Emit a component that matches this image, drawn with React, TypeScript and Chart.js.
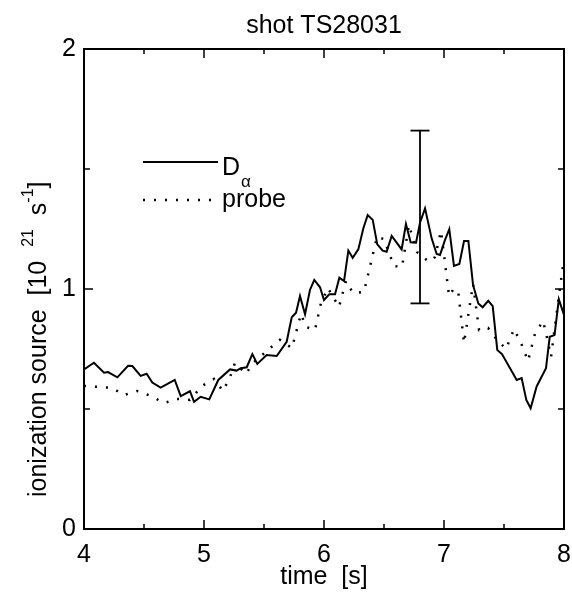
import React, { useEffect, useRef } from "react";
import { Chart, registerables } from "chart.js";

Chart.register(...registerables);

// ---- data ----
const tD = [4.000,4.083,4.167,4.200,4.278,4.367,4.403,4.472,4.522,4.569,4.639,4.756,4.806,4.883,4.917,4.972,5.044,5.119,5.217,5.272,5.306,5.356,5.403,5.444,5.522,5.606,5.689,5.731,5.767,5.800,5.842,5.883,5.919,5.967,6.000,6.044,6.092,6.128,6.167,6.203,6.239,6.286,6.328,6.364,6.406,6.444,6.489,6.522,6.564,6.647,6.683,6.722,6.767,6.800,6.842,6.897,6.939,6.967,7.008,7.044,7.083,7.128,7.167,7.203,7.242,7.286,7.322,7.369,7.406,7.444,7.483,7.606,7.647,7.686,7.722,7.772,7.850,7.881,7.921,7.957,8.000];
const dAlpha = [0.665,0.693,0.651,0.654,0.632,0.680,0.679,0.638,0.647,0.610,0.589,0.621,0.554,0.574,0.530,0.551,0.540,0.621,0.665,0.660,0.670,0.674,0.729,0.688,0.725,0.721,0.780,0.882,0.901,0.971,0.895,0.996,1.038,1.007,0.954,0.978,0.978,1.047,1.033,1.160,1.130,1.165,1.253,1.308,1.288,1.186,1.160,1.155,1.221,1.165,1.271,1.195,1.193,1.276,1.336,1.211,1.146,1.142,1.204,1.249,1.096,1.104,1.200,1.200,1.017,0.940,0.924,0.951,0.929,0.746,0.729,0.621,0.629,0.538,0.503,0.594,0.670,0.801,0.808,0.957,0.892];

const tProbe = [4.000,4.233,4.333,4.442,4.558,4.667,4.775,4.883,4.983,5.083,5.158,5.217,5.258,5.350,5.408,5.533,5.633,5.733,5.808,5.850,5.925,5.975,6.033,6.125,6.183,6.242,6.333,6.442,6.500,6.583,6.650,6.708,6.775,6.875,6.925,6.975,7.000,7.042,7.075,7.117,7.167,7.242,7.292,7.367,7.442,7.517,7.583,7.642,7.700,7.758,7.825,7.850,7.892,7.925,8.000];
const probe = [0.596,0.588,0.558,0.575,0.554,0.525,0.542,0.538,0.596,0.625,0.575,0.633,0.692,0.646,0.692,0.746,0.788,0.754,0.896,0.842,0.829,0.942,1.004,0.925,1.033,0.983,0.988,1.217,1.208,1.096,1.092,1.267,1.154,1.113,1.133,1.242,1.142,0.971,0.996,0.996,0.775,1.021,0.829,0.838,0.788,0.750,0.833,0.775,0.700,0.813,0.867,0.817,0.717,0.846,1.129];

const errT = [6.8];
const errLo = [0.94];
const errHi = [1.66];

const xMajor = [4, 5, 6, 7, 8];
const yMajor = [0, 1, 2];
const minorStep = 0.5;

const titleText = "shot TS28031";
const xTitle = "time  [s]";
const yTitleParts: [string, boolean][] = [
  ["ionization source  [10  ", false],
  ["21", true],
  ["  s", false],
  ["-1", true],
  ["]", false],
];
const legendLabels = ["D", "probe"];
const legendSub = "\u03b1";

const FONT = "'Liberation Sans', Arial, Helvetica, sans-serif";
const FS = 25;

const framePlugin = {
  id: "frame",
  afterDatasetsDraw(chart: any) {
    const { ctx, chartArea } = chart;
    const { left, right, top, bottom } = chartArea;
    const x = chart.scales.x;
    const y = chart.scales.y;
    ctx.save();
    ctx.strokeStyle = "#000";
    ctx.fillStyle = "#000";
    ctx.lineCap = "butt";
    const line = (x1: number, y1: number, x2: number, y2: number) => {
      ctx.beginPath();
      ctx.moveTo(x1, y1);
      ctx.lineTo(x2, y2);
      ctx.stroke();
    };
    // frame
    ctx.lineWidth = 2;
    ctx.strokeRect(left, top, right - left, bottom - top);
    // ticks (inward)
    ctx.lineWidth = 1.5;
    for (let v = x.min; v <= x.max + 1e-9; v += minorStep) {
      const px = x.getPixelForValue(v);
      const len = xMajor.includes(Math.round(v * 100) / 100) ? 9 : 5;
      line(px, bottom, px, bottom - len);
      line(px, top, px, top + len);
    }
    for (let v = y.min; v <= y.max + 1e-9; v += minorStep) {
      const py = y.getPixelForValue(v);
      const len = yMajor.includes(Math.round(v * 100) / 100) ? 9 : 6;
      line(left, py, left + len, py);
      line(right, py, right - len, py);
    }
    // error bar
    ctx.lineWidth = 1.8;
    for (let i = 0; i < errT.length; i++) {
      const px = x.getPixelForValue(errT[i]);
      const pLo = y.getPixelForValue(errLo[i]);
      const pHi = y.getPixelForValue(errHi[i]);
      line(px, pLo, px, pHi);
      line(px - 9.5, pLo, px + 9.5, pLo);
      line(px - 9.5, pHi, px + 9.5, pHi);
    }
    // legend
    ctx.lineWidth = 2;
    line(143, 162, 218, 162);
    ctx.setLineDash([2, 9]);
    ctx.lineWidth = 2.5;
    line(143, 200, 220, 200);
    ctx.setLineDash([]);
    ctx.textAlign = "left";
    ctx.textBaseline = "alphabetic";
    ctx.font = `${FS}px ${FONT}`;
    ctx.fillText(legendLabels[0], 222, 175);
    const dW = ctx.measureText(legendLabels[0]).width;
    ctx.font = `17px ${FONT}`;
    ctx.fillText(legendSub, 222 + dW + 1, 187);
    ctx.font = `${FS}px ${FONT}`;
    ctx.fillText(legendLabels[1], 222, 207);
    // y title
    ctx.save();
    ctx.translate(46, 497);
    ctx.rotate(-Math.PI / 2);
    let cx = 0;
    for (const [txt, sup] of yTitleParts) {
      ctx.font = sup ? `16px ${FONT}` : `${FS}px ${FONT}`;
      ctx.fillText(txt, cx, sup ? -13 : 0);
      cx += ctx.measureText(txt).width;
    }
    ctx.restore();
    ctx.restore();
  },
};

export default function App() {
  const ref = useRef<HTMLCanvasElement | null>(null);
  useEffect(() => {
    if (!ref.current) return;
    const tickCb = (majors: number[]) => (v: any) => {
      const n = Math.round(Number(v) * 100) / 100;
      return majors.includes(n) ? String(n) : "";
    };
    const chart = new Chart(ref.current, {
      type: "line",
      data: {
        datasets: [
          {
            label: "Dα",
            data: tD.map((t, i) => ({ x: t, y: dAlpha[i] })),
            borderColor: "#000",
            borderWidth: 2,
            pointRadius: 0,
            tension: 0,
            fill: false,
          },
          {
            label: "probe",
            data: tProbe.map((t, i) => ({ x: t, y: probe[i] })),
            borderColor: "#000",
            borderWidth: 2.5,
            borderDash: [2, 9],
            borderCapStyle: "butt",
            pointRadius: 0,
            tension: 0,
            fill: false,
          },
        ],
      },
      options: {
        animation: false,
        responsive: false,
        devicePixelRatio: 1,
        layout: { padding: { top: 0, left: 0, right: 8, bottom: 0 } },
        plugins: {
          legend: { display: false },
          tooltip: { enabled: false },
          title: {
            display: true,
            text: titleText,
            fullSize: false,
            color: "#000",
            font: { family: FONT, size: FS, weight: "normal" as any, lineHeight: 1.2 },
            padding: { top: 11, bottom: 8 },
          },
        },
        scales: {
          x: {
            type: "linear",
            min: 4,
            max: 8,
            grid: { display: false, drawTicks: false },
            border: { display: false },
            ticks: {
              stepSize: minorStep,
              autoSkip: false,
              maxRotation: 0,
              padding: 11,
              color: "#000",
              font: { family: FONT, size: FS },
              callback: tickCb(xMajor),
            },
            title: {
              display: true,
              text: xTitle,
              color: "#000",
              font: { family: FONT, size: FS },
              padding: { top: 0, bottom: 0 },
            },
            afterFit(scale: any) {
              scale.height = 63;
              scale.paddingLeft = 0;
              scale.paddingRight = 0;
            },
          },
          y: {
            type: "linear",
            min: 0,
            max: 2,
            grid: { display: false, drawTicks: false },
            border: { display: false },
            ticks: {
              stepSize: minorStep,
              autoSkip: false,
              padding: 8,
              color: "#000",
              font: { family: FONT, size: FS },
              callback: tickCb(yMajor),
            },
            afterFit(scale: any) {
              scale.width = 84;
              scale.paddingTop = 0;
              scale.paddingBottom = 0;
            },
          },
        },
      },
      plugins: [framePlugin],
    } as any);
    return () => chart.destroy();
  }, []);
  return (
    <div style={{ position: "absolute", left: 0, top: 0, width: 572, height: 592, background: "#fff" }}>
      <canvas ref={ref} width={572} height={592} style={{ display: "block" }} />
    </div>
  );
}
